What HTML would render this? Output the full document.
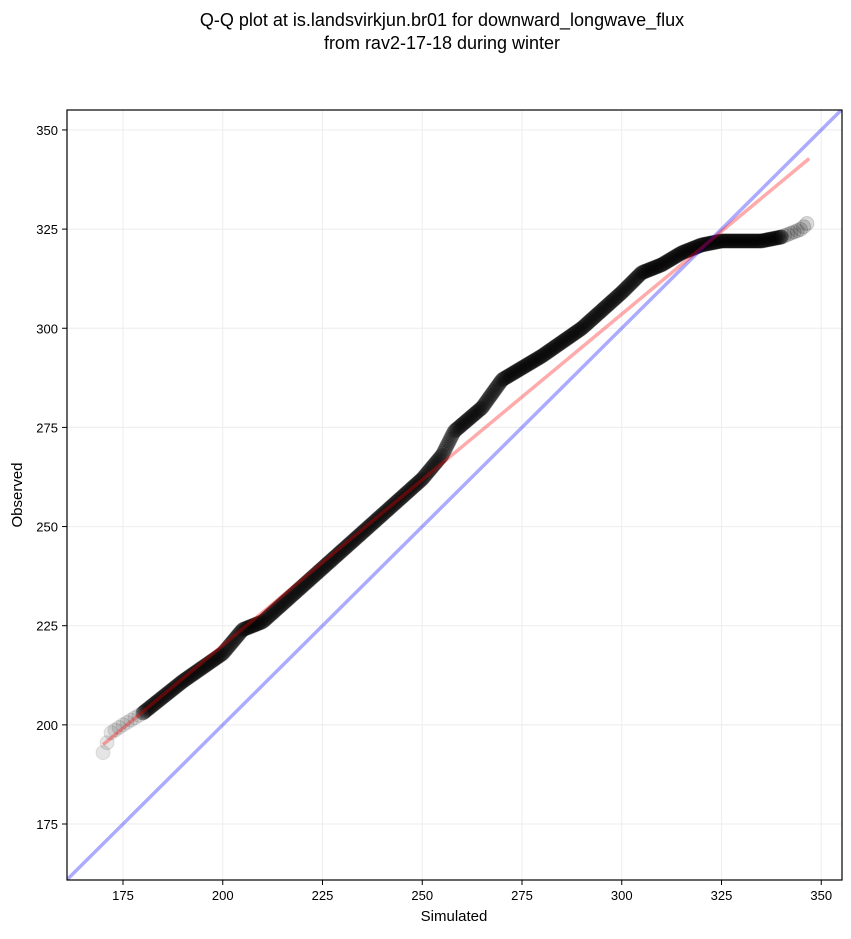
<!DOCTYPE html>
<html><head><meta charset="utf-8"><style>
body{margin:0;background:#fff;}
svg text{font-family:"Liberation Sans","DejaVu Sans",sans-serif;fill:#000;}
</style></head><body>
<svg id="s" width="851" height="934" viewBox="0 0 851 934" xmlns="http://www.w3.org/2000/svg">
<rect width="851" height="934" fill="#fff"/>
<text x="442" y="26" font-size="18" text-anchor="middle">Q-Q plot at is.landsvirkjun.br01 for downward_longwave_flux</text>
<text x="442" y="49" font-size="18" text-anchor="middle">from rav2-17-18 during winter</text>
<defs><clipPath id="c"><rect x="67" y="110" width="775" height="770"/></clipPath></defs>
<g id="grid" stroke="#efefef" stroke-width="1.2"></g>
<g id="pts" clip-path="url(#c)"></g>
<g id="lines" clip-path="url(#c)"></g>
<rect x="67" y="110" width="775" height="770" fill="none" stroke="#000" stroke-width="1.2"/>
<g id="ticks"></g>
<text x="454" y="921" font-size="15" text-anchor="middle">Simulated</text>
<text x="22" y="495" font-size="15" text-anchor="middle" transform="rotate(-90 22 495)">Observed</text>
</svg>
<script>
var NS="http://www.w3.org/2000/svg";
function X(v){return 123+(v-175)*3.99;}
function Y(v){return 824-(v-175)*3.966;}
function el(t,a,p){var e=document.createElementNS(NS,t);for(var k in a)e.setAttribute(k,a[k]);document.getElementById(p).appendChild(e);return e;}
[175,200,225,250,275,300,325,350].forEach(function(v){
 el("line",{x1:X(v),x2:X(v),y1:110,y2:880},"grid");
 el("line",{y1:Y(v),y2:Y(v),x1:67,x2:842},"grid");
 el("line",{x1:X(v),x2:X(v),y1:880,y2:885,stroke:"#000"},"ticks");
 el("line",{y1:Y(v),y2:Y(v),x1:62,x2:67,stroke:"#000"},"ticks");
 var t=el("text",{x:X(v),y:900,"font-size":13,"text-anchor":"middle"},"ticks");t.textContent=v;
 var t2=el("text",{x:58,y:Y(v)+5,"font-size":13,"text-anchor":"end"},"ticks");t2.textContent=v;
});
var K=[[170,193],[172,198],[175,200],[180,203],[185,207],[190,211],[200,218],[205,224],[210,226],[220,235],[230,244],[240,253],[250,262],[255,268],[258,274],[265,280],[270,287],[280,293],[290,300],[300,309],[305,314],[310,316],[315,319],[320,321],[325,322],[335,322],[340,323],[345,325],[347,327]];
function interp(s){for(var i=0;i<K.length-1;i++){if(s<=K[i+1][0]){var a=K[i],b=K[i+1],f=(s-a[0])/(b[0]-a[0]);return a[1]+f*(b[1]-a[1]);}}return K[K.length-1][1];}
function addPt(s,o){el("circle",{cx:X(s),cy:Y(interp(s)),r:7,fill:"#000","fill-opacity":o,stroke:"#000","stroke-opacity":o},"pts");}
for(var s=170;s<=180;s+=1)addPt(s,0.1);
for(var s=180;s<=340;s+=0.25)addPt(s,0.2);
for(var s=340;s<=347;s+=0.8)addPt(s,0.15);
el("line",{x1:X(161),y1:Y(161),x2:X(355.3),y2:Y(355.3),stroke:"#0000ff","stroke-opacity":0.33,"stroke-width":3.5},"lines");
el("line",{x1:X(170),y1:Y(195),x2:X(347),y2:Y(342.8),stroke:"#ff0000","stroke-opacity":0.33,"stroke-width":3.5},"lines");
</script>
</body></html>
